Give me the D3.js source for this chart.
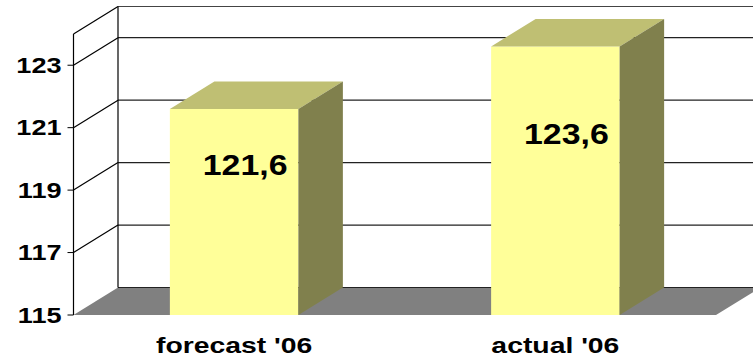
<!DOCTYPE html>
<html>
<head>
<meta charset="utf-8">
<script src="https://cdn.jsdelivr.net/npm/d3@7"></script>
<style>
    body { margin: 0; background: #fff; }
    text { font-family: "Liberation Sans", Arial, sans-serif; font-weight: bold; fill: #000; }
</style>
</head>
<body>
<svg id="chart" width="753" height="360"></svg>
<script>
var categories = ["forecast '06", "actual '06"];
var values = [121.6, 123.6];
var valueLabels = ["121,6", "123,6"];
var yTicks = [115, 117, 119, 121, 123];
var yDomain = [115, 124];

var W = 753, H = 360;
var plotLeft = 73.5, plotRight = 716, plotTop = 34, plotBottom = 315;
var dx = 44.5, dy = 27.5; // depth of the 3d box

var svg = d3.select('#chart');

var x = d3.scaleBand().domain(categories).range([plotLeft, plotRight])
    .paddingInner(0.6).paddingOuter(0.3);
var y = d3.scaleLinear().domain(yDomain).range([plotBottom, plotTop]);

var y0 = y(yDomain[0]), yTop = y(yDomain[1]);

// floor
svg.append('path')
    .attr('d', 'M' + plotLeft + ',' + y0 + 'L' + plotRight + ',' + y0 +
        'L' + (plotRight + dx) + ',' + (y0 - dy) + 'L' + (plotLeft + dx) + ',' + (y0 - dy) + 'Z')
    .style('fill', '#808080');

// back wall gridlines + diagonals on the side wall
var grid = yTicks.concat([yDomain[1]]);
grid.forEach(function(t) {
    var yy = y(t);
    svg.append('line')
        .attr('x1', plotLeft + dx).attr('y1', yy - dy)
        .attr('x2', W + 10).attr('y2', yy - dy)
        .style('stroke', t === yDomain[1] ? '#444' : '#222').style('stroke-width', 1.2);
    if (t !== yDomain[0]) {
        svg.append('line')
            .attr('x1', plotLeft).attr('y1', yy)
            .attr('x2', plotLeft + dx).attr('y2', yy - dy)
            .style('stroke', '#000').style('stroke-width', 1.2);
    }
});

// back wall left edge and front axis
svg.append('line')
    .attr('x1', plotLeft + dx).attr('y1', yTop - dy).attr('x2', plotLeft + dx).attr('y2', y0 - dy)
    .style('stroke', '#000').style('stroke-width', 1.2);
svg.append('line')
    .attr('x1', plotLeft).attr('y1', yTop).attr('x2', plotLeft).attr('y2', y0)
    .style('stroke', '#000').style('stroke-width', 1.2);

// ticks + labels
yTicks.forEach(function(t) {
    svg.append('line')
        .attr('x1', plotLeft - 6).attr('y1', y(t)).attr('x2', plotLeft).attr('y2', y(t))
        .style('stroke', '#000').style('stroke-width', 1);
    svg.append('g')
        .attr('transform', 'translate(' + (plotLeft - 12) + ',' + y(t) + ') scale(1.23,1)')
        .append('text')
        .attr('text-anchor', 'end')
        .attr('dy', '0.35em')
        .style('font-size', '22px')
        .text(t);
});

// bars
var bars = svg.selectAll('g.bar')
    .data(values)
    .enter().append('g')
    .attr('class', 'bar');

bars.each(function(v, i) {
    var g = d3.select(this);
    var x0 = x(categories[i]), x1 = x0 + x.bandwidth(), yv = y(v);
    g.append('rect')
        .attr('x', x0).attr('y', yv).attr('width', x1 - x0).attr('height', y0 - yv)
        .style('fill', '#FFFF99');
    g.append('path')
        .attr('d', 'M' + x0 + ',' + yv + 'L' + (x0 + dx) + ',' + (yv - dy) +
            'L' + (x1 + dx) + ',' + (yv - dy) + 'L' + x1 + ',' + yv + 'Z')
        .style('fill', '#BFBF73');
    g.append('path')
        .attr('d', 'M' + x1 + ',' + yv + 'L' + (x1 + dx) + ',' + (yv - dy) +
            'L' + (x1 + dx) + ',' + (y0 - dy) + 'L' + x1 + ',' + y0 + 'Z')
        .style('fill', '#80804D');

    var cx = x0 + x.bandwidth() / 2 + 11;
    var cy = (yv + y0) / 2 - 47;
    g.append('g')
        .attr('transform', 'translate(' + cx + ',' + cy + ') scale(1.13,1)')
        .append('text')
        .attr('text-anchor', 'middle')
        .attr('dy', '0.35em')
        .style('font-size', '30px')
        .text(valueLabels[i]);
});

// category labels
categories.forEach(function(c) {
    svg.append('g')
        .attr('transform', 'translate(' + (x(c) + x.bandwidth() / 2) + ',353) scale(1.26,1)')
        .append('text')
        .attr('text-anchor', 'middle')
        .style('font-size', '22.5px')
        .text(c);
});
</script>
</body>
</html>
